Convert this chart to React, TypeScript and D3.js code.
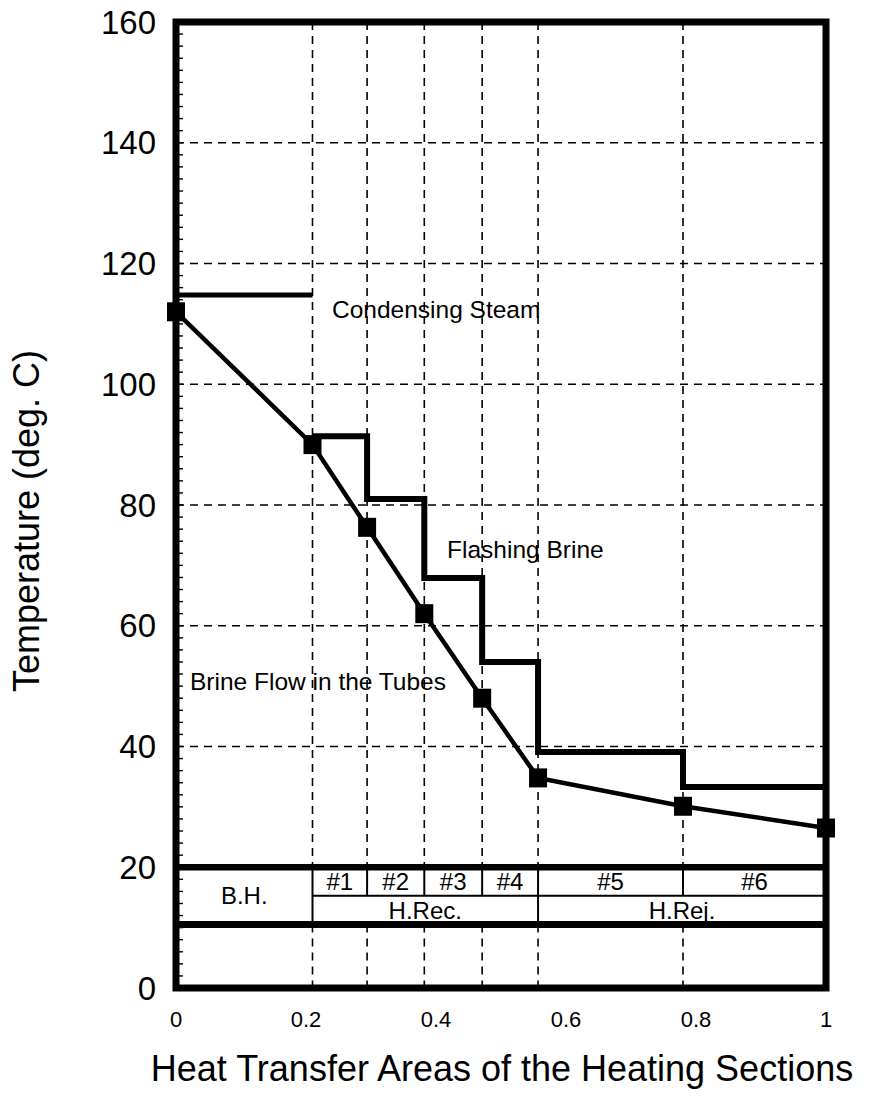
import * as d3 from "d3";

// section boundaries along the heat transfer area axis
const sectionEdges = [0, 0.21, 0.294, 0.382, 0.471, 0.557, 0.78, 1.0];
// brine temperature in the tubes at each boundary
const brineTemps = [112, 90, 76.3, 62, 48, 34.8, 30.1, 26.5];
// flashing brine temperature in sections #1..#6
const flashTemps = [91.4, 81, 67.9, 54, 39.1, 33.3];
const steamTemp = 114.8;
const yTicks = [0, 20, 40, 60, 80, 100, 120, 140, 160];
const xTicks = [0, 0.2, 0.4, 0.6, 0.8, 1];
const gridY = [40, 60, 80, 100, 120, 140];
const sectionNames = ["#1", "#2", "#3", "#4", "#5", "#6"];

const W = 872, H = 1099;
const FONT = "'Liberation Sans', Arial, Helvetica, sans-serif";

export default function App() {
  const x = d3.scaleLinear().domain([0, 1]).range([176, 826]);
  const y = d3.scaleLinear().domain([0, 160]).range([988, 22]);

  const tableTop = 20, tableMid = 15.3, tableBot = 10.5;

  const brinePts = sectionEdges.map((e, i) => [e, brineTemps[i]] as [number, number]);
  const brineLine = d3.line<[number, number]>().x(d => x(d[0])).y(d => y(d[1]));

  // stepped flashing brine profile
  const flashPts: [number, number][] = [];
  flashTemps.forEach((t, i) => {
    flashPts.push([sectionEdges[i + 1], t]);
    flashPts.push([sectionEdges[i + 2], t]);
  });

  const minor = d3.range(2, 160, 2);
  const inner = sectionEdges.slice(1, 7);
  const dash = "8 6";

  return (
    <svg width={W} height={H} style={{ position: "absolute", left: 0, top: 0, background: "#fff" }}
      fontFamily={FONT}>
      {/* horizontal grid */}
      {gridY.map(v => (
        <line key={"gy" + v} x1={x(0)} x2={x(1)} y1={y(v)} y2={y(v)}
          stroke="#000" strokeWidth={1.6} strokeDasharray={dash} />
      ))}
      {/* vertical section lines (dashed outside table) */}
      {inner.map(e => (
        <g key={"gx" + e}>
          <line x1={x(e)} x2={x(e)} y1={y(160)} y2={y(tableTop)}
            stroke="#000" strokeWidth={1.6} strokeDasharray={dash} />
          <line x1={x(e)} x2={x(e)} y1={y(tableBot)} y2={y(0)}
            stroke="#000" strokeWidth={1.6} strokeDasharray={dash} />
        </g>
      ))}
      {/* minor ticks on left axis */}
      {minor.map(v => (
        <line key={"mt" + v} x1={x(0)} x2={x(0) + 7} y1={y(v)} y2={y(v)} stroke="#000" strokeWidth={1.4} />
      ))}

      {/* section table */}
      <line x1={x(0)} x2={x(1)} y1={y(tableTop)} y2={y(tableTop)} stroke="#000" strokeWidth={6.5} />
      <line x1={x(0)} x2={x(1)} y1={y(tableBot)} y2={y(tableBot)} stroke="#000" strokeWidth={7} />
      <line x1={x(sectionEdges[1])} x2={x(1)} y1={y(tableMid)} y2={y(tableMid)} stroke="#000" strokeWidth={2} />
      {[sectionEdges[1], sectionEdges[5]].map(e => (
        <line key={"tv" + e} x1={x(e)} x2={x(e)} y1={y(tableTop)} y2={y(tableBot)} stroke="#000" strokeWidth={2} />
      ))}
      {[sectionEdges[2], sectionEdges[3], sectionEdges[4], sectionEdges[6]].map(e => (
        <line key={"ts" + e} x1={x(e)} x2={x(e)} y1={y(tableTop)} y2={y(tableMid)} stroke="#000" strokeWidth={2} />
      ))}
      {sectionNames.map((n, i) => (
        <text key={n} x={x((sectionEdges[i + 1] + sectionEdges[i + 2]) / 2)} y={y((tableTop + tableMid) / 2)}
          textAnchor="middle" dominantBaseline="central" fontSize={24}>{n}</text>
      ))}
      <text x={x(sectionEdges[1] / 2)} y={y((tableTop + tableBot) / 2)} textAnchor="middle"
        dominantBaseline="central" fontSize={24}>B.H.</text>
      <text x={x((sectionEdges[1] + sectionEdges[5]) / 2)} y={y((tableMid + tableBot) / 2)} textAnchor="middle"
        dominantBaseline="central" fontSize={24}>H.Rec.</text>
      <text x={x((sectionEdges[5] + sectionEdges[7]) / 2)} y={y((tableMid + tableBot) / 2)} textAnchor="middle"
        dominantBaseline="central" fontSize={24}>H.Rej.</text>

      {/* condensing steam */}
      <line x1={x(0)} x2={x(sectionEdges[1])} y1={y(steamTemp)} y2={y(steamTemp)} stroke="#000" strokeWidth={5} />
      {/* flashing brine */}
      <path d={brineLine(flashPts) ?? ""} fill="none" stroke="#000" strokeWidth={6} strokeLinejoin="miter" />
      {/* brine in the tubes */}
      <path d={brineLine(brinePts) ?? ""} fill="none" stroke="#000" strokeWidth={4.5} />
      {brinePts.map((p, i) => (
        <rect key={"m" + i} x={x(p[0]) - 9} y={y(p[1]) - 9.5} width={18} height={19} fill="#000" />
      ))}

      {/* frame */}
      <rect x={x(0)} y={y(160)} width={x(1) - x(0)} height={y(0) - y(160)} fill="none" stroke="#000" strokeWidth={7} />

      {/* annotations */}
      <text x={x(0.24)} y={y(111)} fontSize={24.5}>Condensing Steam</text>
      <text x={x(0.417)} y={y(71.2)} fontSize={24.5}>Flashing Brine</text>
      <text x={x(0.0215)} y={y(49.3)} fontSize={24.5}>Brine Flow in the Tubes</text>

      {/* y tick labels */}
      {yTicks.map(v => (
        <text key={"yt" + v} x={156} y={y(v)} textAnchor="end" dominantBaseline="central" fontSize={33}>{v}</text>
      ))}
      {/* x tick labels */}
      {xTicks.map(v => (
        <text key={"xt" + v} x={x(v)} y={1027} textAnchor="middle" fontSize={22}>{v}</text>
      ))}

      {/* axis titles */}
      <text x={502} y={1081} textAnchor="middle" fontSize={36}>Heat Transfer Areas of the Heating Sections</text>
      <text transform={`translate(39,521) rotate(-90)`} textAnchor="middle" fontSize={36}>Temperature (deg. C)</text>
    </svg>
  );
}
